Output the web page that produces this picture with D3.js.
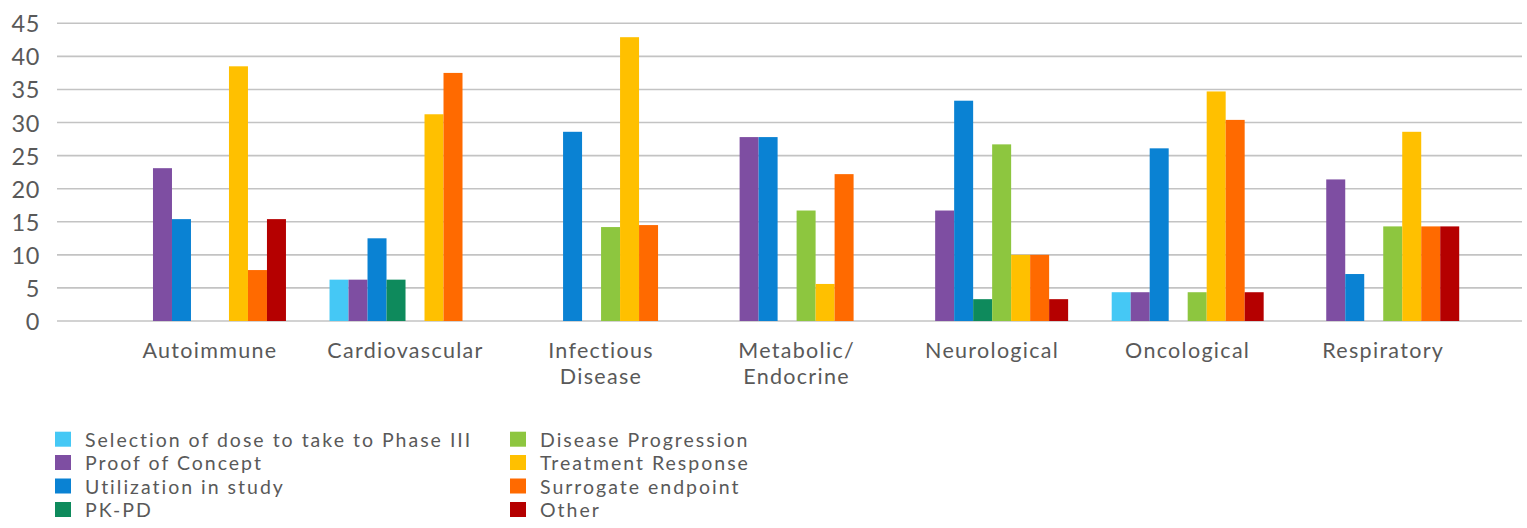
<!DOCTYPE html>
<html>
<head>
<meta charset="utf-8">
<script src="https://cdn.jsdelivr.net/npm/d3@7"></script>
<style>
  html, body { margin: 0; padding: 0; background: #fff; }
  svg { display: block; font-family: Lato, "Open Sans", sans-serif; }
</style>
</head>
<body>
<svg id="chart" width="1527" height="528"></svg>
<script>
// ---- data ----
const categories = ["Autoimmune", "Cardiovascular", "Infectious\nDisease", "Metabolic/\nEndocrine", "Neurological", "Oncological", "Respiratory"];
const seriesNames = ["Selection of dose to take to Phase III", "Proof of Concept", "Utilization in study", "PK-PD",
                     "Disease Progression", "Treatment Response", "Surrogate endpoint", "Other"];
const selectionOfDose   = [0, 6.25, 0, 0, 0, 4.35, 0];
const proofOfConcept    = [23.1, 6.25, 0, 27.8, 16.7, 4.35, 21.4];
const utilization       = [15.4, 12.5, 28.6, 27.8, 33.3, 26.1, 7.1];
const pkpd              = [0, 6.25, 0, 0, 3.3, 0, 0];
const diseaseProgression= [0, 0, 14.2, 16.7, 26.7, 4.35, 14.3];
const treatmentResponse = [38.5, 31.25, 42.9, 5.6, 10, 34.7, 28.6];
const surrogateEndpoint = [7.7, 37.5, 14.5, 22.2, 10, 30.4, 14.3];
const other             = [15.4, 0, 0, 0, 3.3, 4.35, 14.3];
const yTicks = [0, 5, 10, 15, 20, 25, 30, 35, 40, 45];
const colors = ["#45C8F5", "#7E4EA2", "#0A82D3", "#0E8A5C", "#8DC63F", "#FFC000", "#FF6A00", "#B50000"];

const seriesValues = [selectionOfDose, proofOfConcept, utilization, pkpd, diseaseProgression, treatmentResponse, surrogateEndpoint, other];

// ---- layout ----
const svg = d3.select("#chart");
const gridLeft = 57, gridRight = 1522;
const y = d3.scaleLinear().domain([0, 45]).range([321, 23.3]);
const x0 = d3.scaleBand().domain(categories).range([112.2, 1481]).paddingInner(0.2228).paddingOuter(0.1114);
const x1 = d3.scaleBand().domain(seriesNames).range([0, x0.bandwidth()]);
const textColor = "#595959";

// gridlines
svg.append("g").selectAll("line").data(yTicks).join("line")
  .attr("x1", gridLeft).attr("x2", gridRight)
  .attr("y1", d => y(d)).attr("y2", d => y(d))
  .attr("stroke", "#c3c3c3").attr("stroke-width", 1.6);

// y axis labels via d3.axisLeft
const yAxis = svg.append("g").attr("transform", "translate(40,0)")
  .call(d3.axisLeft(y).tickValues(yTicks).tickSize(0).tickPadding(0));
yAxis.select(".domain").remove();
yAxis.selectAll("text").attr("font-size", 23.5).attr("fill", textColor)
  .attr("font-family", "Lato, sans-serif").attr("letter-spacing", 0.6).attr("dy", "0.36em");

// bars
const groups = svg.append("g").selectAll("g").data(categories).join("g")
  .attr("transform", d => `translate(${x0(d)},0)`);
groups.selectAll("rect")
  .data((c, ci) => seriesNames.map((s, si) => ({ s, si, v: seriesValues[si][ci] })))
  .join("rect")
  .filter(d => d.v > 0)
  .attr("x", d => x1(d.s)).attr("width", x1.bandwidth())
  .attr("y", d => y(d.v)).attr("height", d => y(0) - y(d.v))
  .attr("fill", d => colors[d.si]);

// category labels (each line its own text element)
const catLines = [];
categories.forEach(c => c.split("\n").forEach((l, i) => catLines.push({ c, l, i })));
svg.append("g").selectAll("text").data(catLines).join("text")
  .attr("x", d => x0(d.c) + x0.bandwidth() / 2)
  .attr("y", d => 358 + d.i * 26)
  .attr("text-anchor", "middle")
  .attr("font-size", 21.5).attr("letter-spacing", 1.3).attr("fill", textColor)
  .text(d => d.l);

// legend
const legendCols = [55, 510];
const legendRows = [446.7, 470, 493.5, 517];
const legend = svg.append("g").selectAll("g").data(seriesNames).join("g")
  .attr("transform", (d, i) => `translate(${legendCols[Math.floor(i / 4)]},${legendRows[i % 4]})`);
legend.append("rect").attr("x", 0).attr("y", -15).attr("width", 16).attr("height", 15)
  .attr("fill", (d, i) => colors[i]);
legend.append("text").attr("x", 30).attr("y", 0)
  .attr("font-size", 19.5).attr("letter-spacing", 2).attr("fill", textColor).text(d => d);
</script>
</body>
</html>
